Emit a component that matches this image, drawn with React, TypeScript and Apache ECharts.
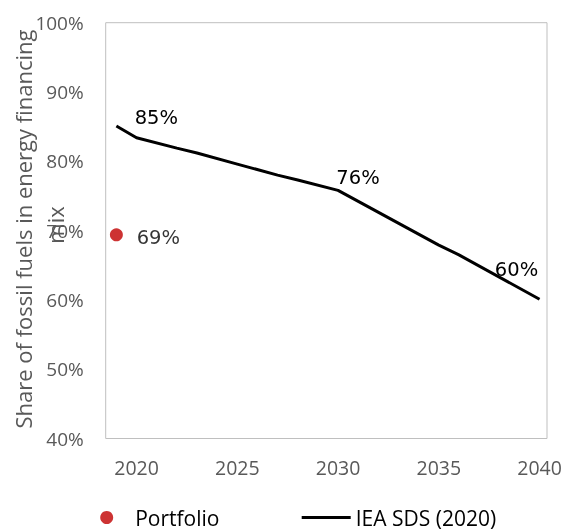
import React, { useEffect, useRef } from "react";
import * as echarts from "echarts";

const ieaYears = [2019, 2020, 2022, 2023, 2025, 2027, 2028, 2030, 2035, 2036, 2040];
const ieaValues = [85.1, 83.4, 81.9, 81.2, 79.6, 78.0, 77.3, 75.8, 67.9, 66.5, 60.1];
const portfolioYear = 2019;
const portfolioValue = 69.4;
const labelledPoints = [
  { year: 2019, text: "85%", offset: [40, -8] },
  { year: 2030, text: "76%", offset: [20, -13] },
  { year: 2040, text: "60%", offset: [-23, -30] },
];
const xTicks = [2020, 2025, 2030, 2035, 2040];
const seriesNames = ["Portfolio", "IEA SDS (2020)"];
const yTitle1 = "Share of fossil fuels in energy financing";
const yTitle2 = "mix";

export default function App() {
  const ref = useRef<HTMLDivElement>(null);
  useEffect(() => {
    if (!ref.current) return;
    const chart = echarts.init(ref.current, null, { renderer: "svg" });
    const lineData = ieaYears.map((y, i) => {
      const lp = labelledPoints.find((p) => p.year === y);
      if (!lp) return [y, ieaValues[i]];
      return {
        value: [y, ieaValues[i]],
        label: {
          show: true,
          position: "inside",
          offset: lp.offset,
          formatter: lp.text,
          align: "center",
          verticalAlign: "middle",
          color: "#000",
          fontFamily: "DejaVu Sans",
          fontSize: 19.5,
        },
      };
    });
    chart.setOption({
      animation: false,
      grid: {
        left: 105.7,
        right: 22,
        top: 22.7,
        bottom: 93.5,
        show: true,
        borderColor: "#BFBFBF",
        borderWidth: 1,
        containLabel: false,
      },
      xAxis: {
        type: "value",
        min: 2018.47,
        max: 2040.37,
        axisLine: { show: false },
        axisTick: { show: false },
        splitLine: { show: false },
        axisLabel: {
          customValues: xTicks,
          margin: 19,
          color: "#595959",
          fontFamily: "Open Sans",
          fontSize: 19.5,
          formatter: (v: number) => String(Math.round(v)),
        },
      },
      yAxis: {
        type: "value",
        min: 40,
        max: 100,
        interval: 10,
        axisLine: { show: false },
        axisTick: { show: false },
        splitLine: { show: false },
        axisLabel: {
          margin: 22,
          color: "#595959",
          fontFamily: "Open Sans",
          fontSize: 19,
          formatter: "{value}%",
        },
      },
      legend: [
        {
          data: [{ name: seriesNames[0], icon: "circle", itemStyle: { color: "#C00000" } }],
          left: 95.2,
          top: 502,
          itemWidth: 13,
          itemHeight: 13,
          textStyle: {
            color: "#000",
            fontFamily: "Open Sans",
            fontSize: 21,
            padding: [0, 0, 0, 17],
          },
        },
        {
          data: [{ name: seriesNames[1], icon: "rect", itemStyle: { color: "#000" } }],
          left: 296.7,
          top: 502,
          itemWidth: 49,
          itemHeight: 3,
          textStyle: {
            color: "#000",
            fontFamily: "Open Sans",
            fontSize: 21,
          },
        },
      ],
      graphic: [
        {
          type: "text",
          x: 23,
          y: 229,
          rotation: Math.PI / 2,
          style: {
            text: yTitle1,
            fill: "#595959",
            font: "22px 'Open Sans'",
            textAlign: "center",
            textVerticalAlign: "middle",
          },
        },
        {
          type: "text",
          x: 54.5,
          y: 225,
          rotation: Math.PI / 2,
          style: {
            text: yTitle2,
            fill: "#595959",
            font: "22px 'Open Sans'",
            textAlign: "center",
            textVerticalAlign: "middle",
          },
        },
      ],
      series: [
        {
          name: seriesNames[1],
          type: "line",
          data: lineData,
          symbol: "circle",
          symbolSize: 1,
          showSymbol: true,
          itemStyle: { color: "rgba(0,0,0,0)" },
          lineStyle: { color: "#000", width: 3 },
          label: { show: false },
          z: 2,
        },
        {
          name: seriesNames[0],
          type: "scatter",
          data: [
            {
              value: [portfolioYear, portfolioValue],
              label: {
                show: true,
                position: "inside",
                offset: [42, 2.5],
                formatter: "69%",
                align: "center",
                verticalAlign: "middle",
                color: "#000",
                fontFamily: "DejaVu Sans",
                fontSize: 19.5,
              },
            },
          ],
          symbol: "circle",
          symbolSize: 13,
          itemStyle: { color: "#C00000" },
          z: 3,
        },
      ],
    });
    return () => chart.dispose();
  }, []);
  return (
    <div
      ref={ref}
      style={{ position: "fixed", left: 0, top: 0, width: 569, height: 532 }}
    />
  );
}
